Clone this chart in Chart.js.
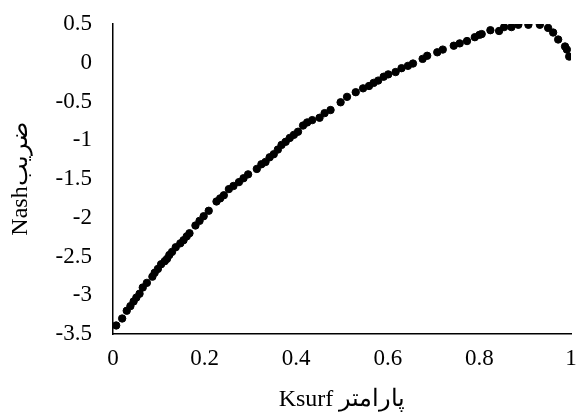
<!DOCTYPE html>
<html>
<head>
<meta charset="utf-8">
<script src="https://cdn.jsdelivr.net/npm/chart.js@4/dist/chart.umd.min.js"></script>
<style>
  html, body { margin: 0; padding: 0; background: #ffffff; }
  #wrap { width: 577px; height: 417px; position: relative; }
</style>
</head>
<body>
<div id="wrap"><canvas id="c" width="577" height="417"></canvas></div>
<script>
// Ksurf parameter values (x) and Nash coefficient (y)
const ksurf = [
  0.007, 0.020, 0.030, 0.038, 0.045, 0.051, 0.058, 0.065, 0.074, 0.086,
  0.091, 0.098, 0.105, 0.113, 0.118, 0.123, 0.129, 0.137, 0.147, 0.154,
  0.161, 0.167, 0.180, 0.189, 0.198, 0.209, 0.226, 0.234, 0.242, 0.253,
  0.263, 0.275, 0.285, 0.295, 0.314, 0.324, 0.333, 0.342, 0.351, 0.360,
  0.368, 0.377, 0.386, 0.395, 0.404, 0.415, 0.424, 0.435, 0.451, 0.462,
  0.475, 0.497, 0.511, 0.530, 0.546, 0.559, 0.569, 0.579, 0.591, 0.601,
  0.617, 0.630, 0.644, 0.655, 0.676, 0.686, 0.708, 0.720, 0.744, 0.757,
  0.773, 0.790, 0.800, 0.805, 0.824, 0.843, 0.854, 0.870, 0.885, 0.907,
  0.932, 0.950, 0.961, 0.972, 0.987, 0.991, 0.996
];
const nash = [
  -3.39, -3.30, -3.20, -3.14, -3.08, -3.03, -2.98, -2.90, -2.84, -2.76,
  -2.71, -2.66, -2.60, -2.56, -2.53, -2.48, -2.44, -2.38, -2.33, -2.29,
  -2.24, -2.20, -2.10, -2.04, -1.98, -1.91, -1.79, -1.75, -1.71, -1.63,
  -1.59, -1.54, -1.49, -1.44, -1.37, -1.31, -1.28, -1.22, -1.18, -1.12,
  -1.06, -1.02, -0.97, -0.93, -0.89, -0.81, -0.77, -0.74, -0.71, -0.65,
  -0.61, -0.51, -0.44, -0.38, -0.33, -0.30, -0.26, -0.23, -0.18, -0.15,
  -0.12, -0.07, -0.04, -0.01, 0.05, 0.09, 0.135, 0.17, 0.22, 0.25,
  0.28, 0.33, 0.36, 0.37, 0.42, 0.41, 0.46, 0.46, 0.49, 0.49,
  0.49, 0.45, 0.39, 0.30, 0.21, 0.17, 0.08
];
const xTitle = "Ksurf پارامتر";
const yTitle = "Nashضریب";
const xMin = 0, xMax = 1, xStep = 0.2;
const yMin = -3.5, yMax = 0.5, yStep = 0.5;

const points = ksurf.map((k, i) => ({ x: k, y: nash[i] }));
const fontFamily = "'Liberation Serif', 'DejaVu Serif', serif";
const fmt = v => Number(v.toFixed(1)).toString();

new Chart(document.getElementById('c'), {
  type: 'scatter',
  data: {
    datasets: [{
      data: points,
      backgroundColor: '#000000',
      borderColor: '#000000',
      pointRadius: 3.7,
      pointHoverRadius: 3.7,
      showLine: false
    }]
  },
  options: {
    responsive: false,
    animation: false,
    devicePixelRatio: 1,
    layout: { padding: { left: 0, right: 6, top: 24, bottom: 0 } },
    plugins: { legend: { display: false }, tooltip: { enabled: false } },
    scales: {
      x: {
        type: 'linear',
        min: xMin, max: xMax,
        grid: { display: false, drawTicks: false },
        border: { display: true, color: '#000000', width: 1.5 },
        ticks: { stepSize: xStep, color: '#000000', padding: 11, callback: fmt,
                 font: { family: fontFamily, size: 23 } },
        title: { display: true, text: xTitle, color: '#000000',
                 font: { family: fontFamily, size: 24 }, padding: { top: 0, bottom: 3 } },
        afterFit: s => { s.height = 83; s.paddingLeft = 0; s.paddingRight = 0; }
      },
      y: {
        type: 'linear',
        min: yMin, max: yMax,
        grid: { display: false, drawTicks: false },
        border: { display: true, color: '#000000', width: 1.5 },
        ticks: { stepSize: yStep, color: '#000000', padding: 21, callback: fmt,
                 font: { family: fontFamily, size: 23 } },
        title: { display: true, text: yTitle, color: '#000000',
                 font: { family: fontFamily, size: 24 }, padding: { top: 6, bottom: 0 } },
        afterFit: s => { s.width = 113; s.paddingTop = 0; s.paddingBottom = 0; }
      }
    }
  }
});
</script>
</body>
</html>
